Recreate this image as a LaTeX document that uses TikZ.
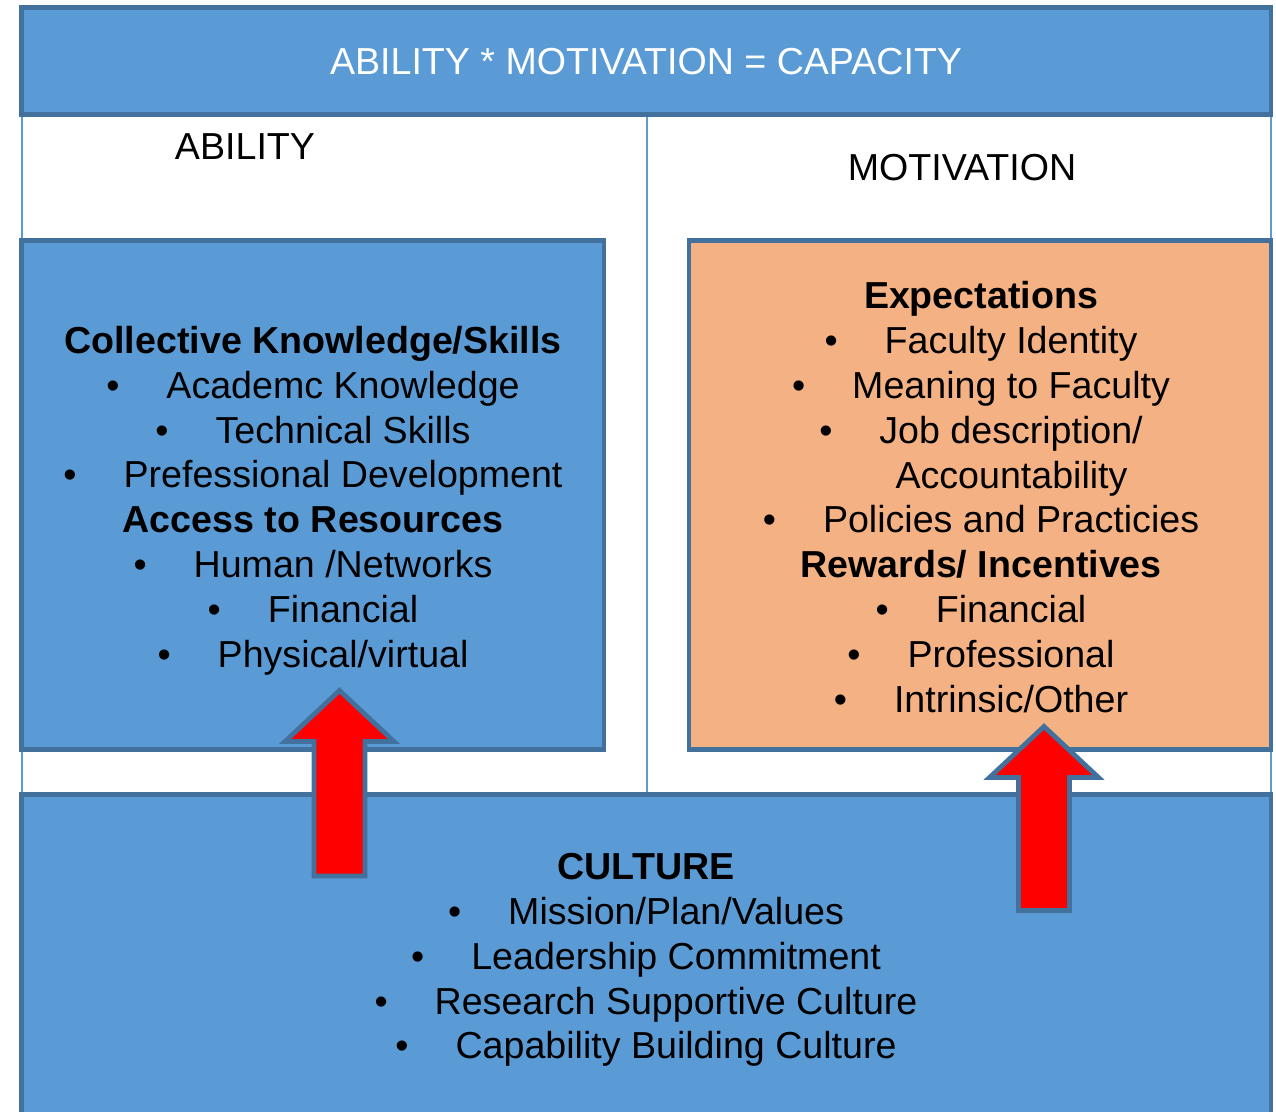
\documentclass[tikz,border=0pt]{standalone}
\usepackage{fontspec}
\setmainfont{Liberation Sans}

\begin{document}
\begin{tikzpicture}[x=0.75pt,y=-0.75pt] % pixel units, y pointing down

        % Colours of the slide
        \definecolor{boxblue}{RGB}{91,155,213}
        \definecolor{edgeblue}{RGB}{65,113,156}
        \definecolor{boxorange}{RGB}{244,177,131}

        \tikzset{
            panel/.style={draw=edgeblue, line width=3.6pt},
            divider/.style={draw=boxblue, line width=1.5pt},
            bodytext/.style={align=center, inner sep=0pt, font=\fontsize{28.2}{33.6}\selectfont},
            uparrow/.style={fill=red, draw=edgeblue, line width=3.6pt, line join=miter}
        }
        \def\bitem#1{\textbullet\hspace{1.25em}#1}
        \def\headline#1{\textbf{#1}}

        \useasboundingbox (0,0) rectangle (1276,1111);
        \clip (0,0) rectangle (1276,1111);

        % Thin dividers between the panels
        \draw[divider] (21.5,114) -- (21.5,795);
        \draw[divider] (647.3,114) -- (647.3,795);
        \draw[divider] (1271,114) -- (1271,795);

        % Panels
        \draw[panel, fill=boxblue] (21.5,7.5) rectangle (1271,114.5);     % title bar
        \draw[panel, fill=boxblue] (21.5,240.5) rectangle (604,749.5);    % ability
        \draw[panel, fill=boxorange] (689,240.5) rectangle (1271,749.5);  % motivation
        \draw[panel, fill=boxblue] (21.5,794.5) rectangle (1271,1140);    % culture

        % Block arrows from culture up to the two panels
        \foreach \ax/\abot/\atip in {339.5/876/690.5, 1044/910.5/726.5} {
            \draw[uparrow] (\ax-25.5,\abot) -- (\ax+25.5,\abot) -- (\ax+25.5,\atip+51)
                -- (\ax+54.5,\atip+51) -- (\ax,\atip) -- (\ax-54.5,\atip+51)
                -- (\ax-25.5,\atip+51) -- cycle;
        }

        % Texts
        \node[bodytext, text=white] (title) at (646,62) {ABILITY * MOTIVATION = CAPACITY};
        \node[bodytext] (abilitylabel) at (245,147) {ABILITY};
        \node[bodytext] (motivationlabel) at (962,168) {MOTIVATION};

        \node[bodytext] (abilitytext) at (313,500.5) {%
            \headline{Collective Knowledge/Skills}\\
            \bitem{Academc Knowledge}\\
            \bitem{Technical Skills}\\
            \bitem{Prefessional Development}\\
            \headline{Access to Resources}\\
            \bitem{Human /Networks}\\
            \bitem{Financial}\\
            \bitem{Physical/virtual}};

        \node[bodytext] (motivationtext) at (981,497) {%
            \headline{Expectations}\\
            \bitem{Faculty Identity}\\
            \bitem{Meaning to Faculty}\\
            \bitem{Job description/}\\
            \hspace*{45.75pt}Accountability\\
            \bitem{Policies and Practicies}\\
            \headline{Rewards/ Incentives}\\
            \bitem{Financial}\\
            \bitem{Professional}\\
            \bitem{Intrinsic/Other}};

        \node[bodytext] (culturetext) at (646,960) {%
            \headline{CULTURE}\\
            \bitem{Mission/Plan/Values}\\
            \bitem{Leadership Commitment}\\
            \bitem{Research Supportive Culture}\\
            \bitem{Capability Building Culture}};

    \end{tikzpicture}
\end{document}
